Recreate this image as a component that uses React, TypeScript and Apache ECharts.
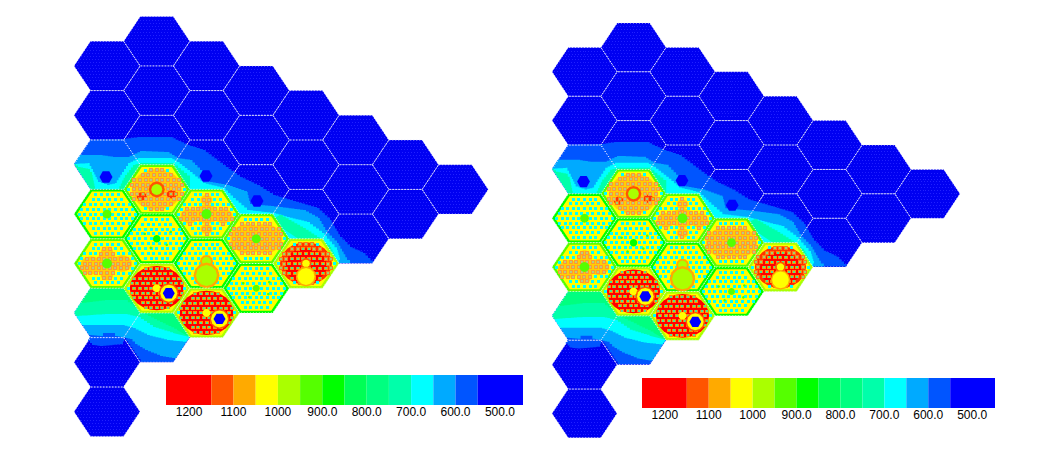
import React, { useEffect, useRef } from "react";
import * as echarts from "echarts";

// Colour scale: bin edges (deg) and the colour of each bin
const BIN_EDGES = [1252, 1150, 1100, 1050, 1000, 950, 900, 850, 800, 750, 700, 650, 600, 550, 448];
const BIN_COLORS = ["#ff0000", "#ff5500", "#ffaa00", "#ffff00", "#aaff00", "#55ff00", "#00ff00", "#00ff55", "#00ff80", "#00ffaa", "#00ffff", "#00aaff", "#0055ff", "#0000ff"];
const TICKS = [1200, 1100, 1000, 900, 800, 700, 600, 500];

// Cold blocks: [column, half-step row]
const BLUE_BLOCKS: number[][] = [
  [1, 1], [0, 2], [2, 2], [1, 3], [3, 3], [0, 4], [2, 4], [4, 4], [1, 5], [3, 5], [5, 5], [0, 6], [2, 6], [4, 6], [6, 6], [3, 7], [5, 7], [7, 7], [4, 8], [6, 8], [5, 9],
  [0, 12], [1, 13], [0, 14], [0, 16],
];

// Fuel blocks, one entry per block
const FUEL_COL = [1, 0, 2, 1, 3, 0, 2, 1, 2, 3, 4];
const FUEL_ROW = [7, 8, 8, 9, 9, 10, 10, 11, 12, 11, 10];
const FUEL_RIM_T = [900, 880, 900, 870, 900, 900, 880, 960, 960, 880, 960];
const FUEL_FIELD_T = [1020, 1020, 1020, 1020, 1020, 1020, 1020, 1020, 1020, 1020, 1020];
const FUEL_PIN_T = [680, 680, 680, 670, 680, 680, 680, 680, 680, 670, 680];

// Warm zones [dx, dy, radius, temperature] per fuel block
const ZONES: number[][][] = [
  [[0, 0, 26, 1080], [-15, 7, 5, 1130], [15, 5, 5, 1130]],
  [],
  [[0, 0, 13, 1080], [-17, 2, 10, 1080], [17, 2, 10, 1080], [0, -14, 7, 1080], [0, 15, 7, 1080]],
  [],
  [[-8, 0, 19, 1080], [8, 0, 19, 1080]],
  [[0, 0, 13, 1080], [-16, 2, 12, 1080], [15, 0, 11, 1080], [0, -12, 7, 1080], [0, 12, 7, 1080]],
  [],
  [[0, 0, 27, 1200]],
  [[0, 0, 27, 1200]],
  [],
  [[0, 0, 26, 1130], [0, 2, 21, 1200]],
];

// Solid blobs [dx, dy, radius, temperature] per fuel block, painted in order
const BLOBS: number[][][] = [
  [[0, 0, 8, 1130], [0, 0, 5.5, 970]],
  [[0, 0, 4.5, 920]],
  [[0, 0, 5, 920]],
  [[0, 0, 3.8, 870], [-12, -5, 1.3, 920], [10, 6, 1.3, 920], [-6, 9, 1.3, 920], [14, -7, 1.3, 920]],
  [[0, 0, 4.5, 920]],
  [[0, 0, 5, 920]],
  [[0, -2, 6.5, 1080], [0, -2, 4.5, 970], [0, 12, 13, 1080], [0, 12, 10.5, 970]],
  [[0, 0, 4, 1020], [12, 5, 10, 1120], [12, 5, 8.5, 1020], [12, 5, 6, 500]],
  [[0, 0, 4, 1020], [13, 6, 10, 1120], [13, 6, 8.5, 1020], [13, 6, 6, 500]],
  [[0, 0, 3.5, 920], [-13, -5, 1.3, 920], [12, 6, 1.3, 920], [-7, 9, 1.3, 920], [13, -6, 1.3, 920]],
  [[0, 0, 5.5, 1120], [0, 0, 3.8, 1020], [0, 13, 10, 1080], [0, 13, 8.5, 1020]],
];

// Small cold spots outside the fuel [x, y]
const COLD_SPOTS = [[106, 177], [206, 176], [257, 201]];

// Isotherms; the closure runs beneath the fuel blocks
const UP_CLOSE = [[339, 263], [300, 240], [256, 238], [206, 214], [157, 190], [90.5, 189], [74, 164]];
const UP_550 = [[90.5, 139.5], [123, 139], [137, 137], [170, 137], [187, 145], [203, 150], [223, 165], [240, 177], [257, 185], [273, 195], [290, 200], [317, 208], [330, 220], [340, 237], [350, 247], [363, 253], [373, 263]];
const UP_600 = [[80, 155], [100, 155], [113, 157], [127, 157], [140, 151], [167, 152], [177, 158], [190, 160], [200, 170], [210, 182], [227, 185], [247, 192], [250, 204], [280, 207], [303, 210], [318, 218], [327, 233], [337, 243], [347, 260], [350, 263]];
const UP_650 = [[74, 164], [88, 163], [93, 172], [98, 182], [107, 185], [115, 183], [122, 172], [128, 163], [138, 158], [170, 158], [177, 162], [190, 172], [203, 183], [223, 188], [233, 198], [247, 210], [273, 213], [287, 217], [307, 222], [322, 233], [337, 250], [340, 260], [339, 263]];
const UP_700_A = [[74, 164], [78, 167], [88, 169], [92, 175], [95, 189]];
const UP_700_B = [[118, 189], [125, 175], [133, 165], [140, 163], [172, 163], [190, 178], [190, 189]];
const UP_700_C = [[280, 215], [303, 228], [317, 237], [330, 247], [335, 257], [336, 263]];

const LOW_CLOSE = [[189.6, 337], [173, 312], [157, 288], [124, 288], [90.5, 288]];
const LOW_550 = [[90.5, 337.5], [88, 341], [92, 345], [100, 346], [122, 344], [124, 338], [140.5, 362], [173.5, 362]];
const LOW_600 = [[89, 335], [100, 336], [103, 333], [112, 333], [115, 336], [123.5, 337.5], [130, 339], [135, 344], [145, 350], [160, 356], [172, 358], [176, 358]];
const LOW_650 = [[82, 325], [107, 325], [122, 325], [133, 328], [147, 335], [167, 340], [186, 342]];
const LOW_700 = [[76, 316], [105, 314], [125, 314], [138, 317], [153, 327], [173, 333]];
const LOW_750 = [[80.4, 303], [105, 300], [125, 300], [142, 313], [160, 322], [177, 330]];

const PANELS = [
  { ox: 74, oy: 16.5, sx: 1, sy: 1 },
  { ox: 552, oy: 23, sx: 0.9848, sy: 0.988 },
];

const colorOf = (t: number) => {
  for (let i = 0; i < BIN_COLORS.length; i++) if (t >= BIN_EDGES[i + 1]) return BIN_COLORS[i];
  return BIN_COLORS[BIN_COLORS.length - 1];
};

const stair = (pts: number[][]) => {
  const out: number[][] = [pts[0]];
  for (let i = 1; i < pts.length; i++) {
    const [x0, y0] = pts[i - 1];
    const [x1, y1] = pts[i];
    const n = Math.max(1, Math.ceil(Math.max(Math.abs(x1 - x0), Math.abs(y1 - y0)) / 3.2));
    let py = y0;
    for (let k = 1; k <= n; k++) {
      const x = x0 + ((x1 - x0) * k) / n;
      const y = y0 + ((y1 - y0) * k) / n;
      out.push([x, py], [x, y]);
      py = y;
    }
  }
  return out;
};

const HX = 33;
const HY = 24.7;
const SQUASH = 0.82;
const centre = (col: number, row: number) => [107 + 49.75 * col, 16.5 + 24.7 * row];
const hexPts = (cx: number, cy: number, k = 1) => [
  [cx - HX * k, cy],
  [cx - (HX / 2) * k, cy - HY * k],
  [cx + (HX / 2) * k, cy - HY * k],
  [cx + HX * k, cy],
  [cx + (HX / 2) * k, cy + HY * k],
  [cx - (HX / 2) * k, cy + HY * k],
];
const inHex = (dx: number, dy: number, k: number) => {
  const ax = Math.abs(dx);
  const ay = Math.abs(dy);
  return ay <= HY * k && ax <= HX * k - (ay / (HY * k)) * (HX / 2) * k;
};
const disc = (cx: number, cy: number, r: number, n: number, sq = 1) => {
  const out: number[][] = [];
  for (let i = 0; i < n; i++) {
    const a = (i / n) * Math.PI * 2;
    out.push([cx + r * Math.cos(a), cy + r * sq * Math.sin(a)]);
  }
  return out;
};

function panelRenderer(panel: (typeof PANELS)[number]) {
  return (_: any, api: any) => {
    const map = (x: number, y: number) => api.coord([panel.ox + (x - 74) * panel.sx, panel.oy + (y - 16.5) * panel.sy]);
    const poly = (pts: number[][], fill: string) => ({
      type: "polygon",
      shape: { points: pts.map((p) => map(p[0], p[1])) },
      style: { fill, stroke: null },
    });
    const squares = (list: number[][], w: number, h: number, fill: string) => {
      let d = "";
      for (const [x, y] of list) {
        const c = map(x, y);
        d += `M${Math.round(c[0] - w / 2)} ${Math.round(c[1] - h / 2)}h${w}v${h}h${-w}z`;
      }
      return { type: "path", shape: { pathData: d }, style: { fill, stroke: null } };
    };
    const children: any[] = [];

    // cold blocks with their faint dotted texture
    for (const [c, r] of BLUE_BLOCKS) {
      const [cx, cy] = centre(c, r);
      children.push(poly(hexPts(cx, cy), "#0000f2"));
      const dots: number[][] = [];
      for (let j = -8; j <= 8; j++)
        for (let i = -11; i <= 11; i++) {
          const dx = i * 3 + (j % 2 ? 1.5 : 0);
          const dy = j * 3;
          if (inHex(dx, dy, 0.96)) dots.push([cx + dx, cy + dy]);
        }
      children.push(squares(dots, 1, 1, "#2020ff"));
    }

    // isotherm bands
    const band = (t: number, contour: number[][], close: number[][], lead: number[][] = []) =>
      children.push(poly([...lead, ...stair(contour), ...close], colorOf(t)));
    band(575, UP_550, UP_CLOSE);
    band(625, UP_600, UP_CLOSE);
    band(675, UP_650, UP_CLOSE);
    band(725, UP_700_A, [[90.5, 189]]);
    band(725, UP_700_B, [[157, 190]]);
    band(725, UP_700_C, [[300, 240], [270, 220]]);
    const lead = [[74, 312.8]];
    band(575, LOW_550, LOW_CLOSE, lead);
    band(625, LOW_600, LOW_CLOSE, lead);
    band(675, LOW_650, LOW_CLOSE, lead);
    band(725, LOW_700, LOW_CLOSE, lead);
    band(775, LOW_750, LOW_CLOSE);
    for (const [x, y] of COLD_SPOTS) children.push(poly(disc(x, y, 6.5, 6), "#0000ff"));

    // dotted outlines of the cold blocks
    for (const [c, r] of BLUE_BLOCKS) {
      const [cx, cy] = centre(c, r);
      children.push({
        type: "polygon",
        shape: { points: hexPts(cx, cy).map((p) => map(p[0], p[1])) },
        style: { fill: null, stroke: "#e8e8ff", lineWidth: 1, lineDash: [1, 2] },
      });
    }

    // fuel blocks
    FUEL_COL.forEach((col, i) => {
      const [cx, cy] = centre(col, FUEL_ROW[i]);
      children.push(poly(hexPts(cx, cy), colorOf(FUEL_RIM_T[i])));
      children.push(poly(hexPts(cx, cy, 0.91), colorOf(FUEL_FIELD_T[i])));
      const zones = ZONES[i];
      for (const z of zones) {
        if (z[3] >= 1150) children.push(poly(disc(cx + z[0], cy + z[1], z[2], 24, SQUASH), "#ff0000"));
        else if (z[3] >= 1100) children.push(poly(disc(cx + z[0], cy + z[1], z[2], 24, SQUASH), "#ff3300"));
        else if (z[3] >= 1050) children.push(poly(disc(cx + z[0], cy + z[1], z[2] - 1, 24, SQUASH), "#ffd000"));
      }
      const groups: Record<string, number[][]> = { cold: [], warm: [], hot: [], mid: [] };
      for (let j = -6; j <= 6; j++)
        for (let k = -7; k <= 7; k++) {
          const dx = k * 5.6 + (j % 2 ? 2.8 : 0);
          const dy = j * 4.85;
          if (!inHex(dx, dy, 0.88)) continue;
          let t = FUEL_PIN_T[i];
          for (const z of zones) if (Math.hypot(dx - z[0], (dy - z[1]) / SQUASH) <= z[2]) t = z[3];
          const key = t >= 1150 ? "hot" : t >= 1100 ? "mid" : t >= 1050 ? "warm" : "cold";
          groups[key].push([cx + dx, cy + dy]);
        }
      children.push(squares(groups.cold, 3, 3, colorOf(FUEL_PIN_T[i])));
      children.push(squares(groups.warm, 4, 4, "#ff9a30"));
      children.push(squares(groups.warm, 2, 2, "#b8cc80"));
      children.push(squares(groups.mid, 4, 4, "#ff7a10"));
      children.push(squares(groups.mid, 2, 2, "#a0d070"));
      children.push(squares(groups.hot, 4, 3, "#ff9000"));
      children.push(squares(groups.hot, 2, 2, "#50e090"));
      for (const b of BLOBS[i]) children.push(poly(disc(cx + b[0], cy + b[1], b[2], b[3] < 600 ? 6 : 12), colorOf(b[3])));
      children.push({
        type: "polygon",
        shape: { points: hexPts(cx, cy).map((p) => map(p[0], p[1])) },
        style: { fill: null, stroke: "#d8ffd8", lineWidth: 1, lineDash: [1, 2] },
      });
    });

    return { type: "group", children };
  };
}

const binData = BIN_COLORS.map((_, i) => [BIN_EDGES[i + 1], BIN_EDGES[i], i]);

const renderBin = (_: any, api: any) => {
  const a = api.coord([api.value(0), 0]);
  const b = api.coord([api.value(1), 1]);
  return {
    type: "rect",
    shape: { x: b[0], y: b[1], width: a[0] - b[0], height: a[1] - b[1] },
    style: { fill: BIN_COLORS[api.value(2)], stroke: null },
  };
};

const barAxis = (gridIndex: number) => ({
  gridIndex,
  type: "value",
  min: 448,
  max: 1252,
  inverse: true,
  axisLine: { show: false },
  axisTick: { show: false },
  splitLine: { show: false },
  axisLabel: {
    customValues: TICKS,
    margin: 1,
    fontFamily: "Liberation Sans",
    fontSize: 12,
    color: "#000",
    formatter: (v: number) => (v >= 1000 ? String(v) : v.toFixed(1)),
  },
});
const hiddenAxis = (gridIndex: number, min: number, max: number, inverse = false) => ({
  gridIndex,
  type: "value",
  min,
  max,
  inverse,
  show: false,
});

export default function App() {
  const ref = useRef<HTMLDivElement>(null);
  useEffect(() => {
    const chart = echarts.init(ref.current!, null, { renderer: "svg" });
    chart.setOption({
      animation: false,
      backgroundColor: "#ffffff",
      grid: [
        { left: 0, top: 0, width: 1061, height: 451 },
        { left: 166, top: 375, width: 357, height: 30 },
        { left: 642, top: 378, width: 353, height: 30 },
      ],
      xAxis: [hiddenAxis(0, 0, 1061), barAxis(1), barAxis(2)],
      yAxis: [hiddenAxis(0, 0, 451, true), hiddenAxis(1, 0, 1), hiddenAxis(2, 0, 1)],
      series: [
        ...PANELS.map((p) => ({
          type: "custom",
          coordinateSystem: "cartesian2d",
          xAxisIndex: 0,
          yAxisIndex: 0,
          silent: true,
          clip: false,
          data: [[0, 0]],
          renderItem: panelRenderer(p),
        })),
        ...[1, 2].map((ix) => ({
          type: "custom",
          coordinateSystem: "cartesian2d",
          xAxisIndex: ix,
          yAxisIndex: ix,
          silent: true,
          data: binData,
          encode: { x: [0, 1] },
          renderItem: renderBin,
        })),
      ],
    });
    return () => chart.dispose();
  }, []);
  return <div ref={ref} style={{ position: "absolute", left: 0, top: 0, width: 1061, height: 451 }} />;
}
